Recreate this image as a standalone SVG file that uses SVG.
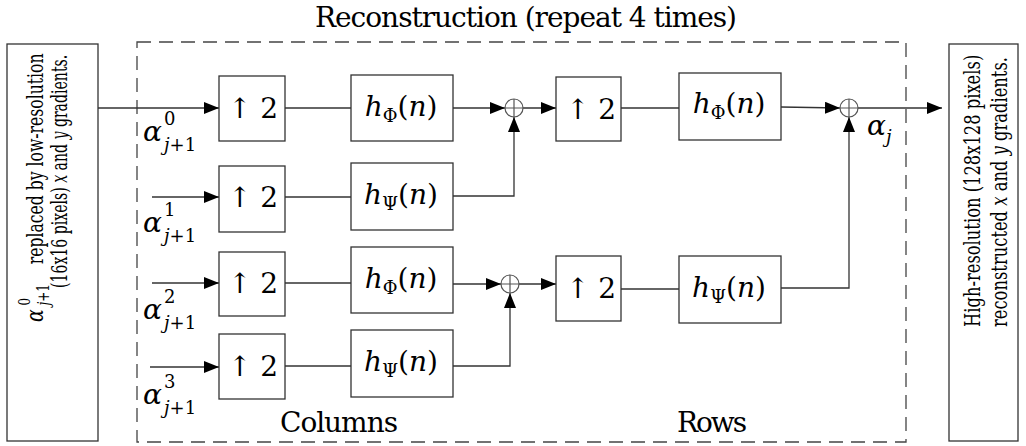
<svg xmlns="http://www.w3.org/2000/svg" width="1026" height="446" viewBox="0 0 1026 446">
<style>
.bx{fill:#fff;stroke:#333;stroke-width:1.3}
.ln{fill:none;stroke:#333;stroke-width:1.3}
.ar{fill:none;stroke:#333;stroke-width:1.3;marker-end:url(#ah)}
.dash{fill:none;stroke:#444;stroke-width:1.3;stroke-dasharray:14 8}
.sum{fill:#fff;stroke:#555;stroke-width:1.2}
text{font-family:'DejaVu Serif','Liberation Serif',serif;fill:#000}
.m{font-size:28px}
.ms{font-size:18px}
.lb{font-size:28px}
.bt{font-size:22px}
.bs{font-size:16px}
.i{font-style:italic}
</style>
<defs>
<marker id="ah" viewBox="0 0 15 12" refX="15" refY="6" markerWidth="15" markerHeight="12" orient="auto" markerUnits="userSpaceOnUse">
<path d="M0,0 L15,6 L0,12 z" fill="#000"/>
</marker>
</defs>

<text id="title" class="lb" x="315" y="27" textLength="422">Reconstruction (repeat 4 times)</text>

<rect id="frame" class="dash" x="137" y="42" width="769" height="400"/>

<g id="input">
<rect class="bx" x="7" y="44" width="91" height="397"/>
<g transform="translate(43,322) rotate(-90) scale(0.75,1)">
<text class="bt i" x="0" y="0" style="font-size:25px">α</text>
<text class="bs" x="22" y="-13">0</text>
<text class="bs" x="22" y="6"><tspan class="i">j</tspan>+1</text>
<text class="bt" x="77" y="0" textLength="281" lengthAdjust="spacingAndGlyphs">replaced by low-resolution</text>
</g>
<g transform="translate(67,288) rotate(-90) scale(0.75,1)">
<text class="bt" x="0" y="0" textLength="311" lengthAdjust="spacingAndGlyphs">(16x16 pixels) <tspan class="i">x</tspan> and <tspan class="i">y</tspan> gradients.</text>
</g>
</g>

<g id="output">
<rect class="bx" x="949" y="44" width="69" height="397"/>
<g transform="translate(980,327) rotate(-90) scale(0.75,1)">
<text class="bt" x="0" y="0" textLength="363" lengthAdjust="spacingAndGlyphs">High-resolution  (128x128  pixels)</text>
</g>
<g transform="translate(1007,327) rotate(-90) scale(0.75,1)">
<text class="bt" x="0" y="0" textLength="360" lengthAdjust="spacingAndGlyphs">reconstructed <tspan class="i">x</tspan> and <tspan class="i">y</tspan> gradients.</text>
</g>
</g>

<g id="connectors">
<line class="ar" x1="98" y1="108" x2="219" y2="108"/>
<line class="ar" x1="152" y1="197" x2="219" y2="197"/>
<line class="ar" x1="152" y1="283" x2="219" y2="283"/>
<line class="ar" x1="150" y1="367" x2="219" y2="367"/>
<line class="ln" x1="285" y1="108" x2="351" y2="108"/>
<line class="ln" x1="285" y1="197" x2="351" y2="197"/>
<line class="ln" x1="285" y1="283" x2="351" y2="283"/>
<line class="ln" x1="285" y1="366" x2="351" y2="366"/>
<line class="ar" x1="453" y1="108" x2="505" y2="108"/>
<polyline class="ar" points="453,196 514,196 514,117"/>
<line class="ar" x1="453" y1="284" x2="501" y2="284"/>
<polyline class="ar" points="453,366 510,366 510,293"/>
<line class="ar" x1="523" y1="108" x2="556" y2="108"/>
<line class="ar" x1="519" y1="284" x2="556" y2="284"/>
<line class="ln" x1="621" y1="108" x2="679" y2="108"/>
<line class="ln" x1="621" y1="289" x2="679" y2="289"/>
<line class="ar" x1="781" y1="107" x2="840" y2="108"/>
<polyline class="ar" points="781,288 849,288 849,117"/>
<line class="ar" x1="858" y1="108" x2="942" y2="108"/>
</g>

<g id="up1">
<rect class="bx" x="219" y="76" width="66" height="65"/>
<text class="m" x="253" y="118" text-anchor="middle">↑ 2</text>
</g>
<g id="up2">
<rect class="bx" x="219" y="166" width="66" height="66"/>
<text class="m" x="253" y="207" text-anchor="middle">↑ 2</text>
</g>
<g id="up3">
<rect class="bx" x="219" y="252" width="66" height="64"/>
<text class="m" x="253" y="293" text-anchor="middle">↑ 2</text>
</g>
<g id="up4">
<rect class="bx" x="219" y="334" width="66" height="65"/>
<text class="m" x="253" y="376" text-anchor="middle">↑ 2</text>
</g>

<g id="hphi1">
<rect class="bx" x="351" y="75" width="102" height="66"/>
<text class="m" x="401" y="116" text-anchor="middle"><tspan class="i">h</tspan><tspan class="ms" dy="6">Φ</tspan><tspan dy="-6">(</tspan><tspan class="i">n</tspan>)</text>
</g>
<g id="hpsi1">
<rect class="bx" x="351" y="163" width="102" height="67"/>
<text class="m" x="401" y="204" text-anchor="middle"><tspan class="i">h</tspan><tspan class="ms" dy="6">Ψ</tspan><tspan dy="-6">(</tspan><tspan class="i">n</tspan>)</text>
</g>
<g id="hphi2">
<rect class="bx" x="351" y="247" width="102" height="66"/>
<text class="m" x="401" y="288" text-anchor="middle"><tspan class="i">h</tspan><tspan class="ms" dy="6">Φ</tspan><tspan dy="-6">(</tspan><tspan class="i">n</tspan>)</text>
</g>
<g id="hpsi2">
<rect class="bx" x="351" y="330" width="102" height="67"/>
<text class="m" x="401" y="371" text-anchor="middle"><tspan class="i">h</tspan><tspan class="ms" dy="6">Ψ</tspan><tspan dy="-6">(</tspan><tspan class="i">n</tspan>)</text>
</g>

<g id="sum1">
<circle class="sum" cx="514" cy="108" r="9"/>
<path class="sum" d="M505,108 H523 M514,99 V117"/>
</g>
<g id="sum2">
<circle class="sum" cx="510" cy="284" r="9"/>
<path class="sum" d="M501,284 H519 M510,275 V293"/>
</g>
<g id="sum3">
<circle class="sum" cx="849" cy="108" r="9"/>
<path class="sum" d="M840,108 H858 M849,99 V117"/>
</g>

<g id="up5">
<rect class="bx" x="556" y="77" width="65" height="64"/>
<text class="m" x="591" y="119" text-anchor="middle">↑ 2</text>
</g>
<g id="up6">
<rect class="bx" x="556" y="256" width="65" height="65"/>
<text class="m" x="591" y="298" text-anchor="middle">↑ 2</text>
</g>
<g id="hphi3">
<rect class="bx" x="679" y="73" width="102" height="67"/>
<text class="m" x="729" y="113" text-anchor="middle"><tspan class="i">h</tspan><tspan class="ms" dy="6">Φ</tspan><tspan dy="-6">(</tspan><tspan class="i">n</tspan>)</text>
</g>
<g id="hpsi3">
<rect class="bx" x="679" y="256" width="102" height="67"/>
<text class="m" x="729" y="297" text-anchor="middle"><tspan class="i">h</tspan><tspan class="ms" dy="6">Ψ</tspan><tspan dy="-6">(</tspan><tspan class="i">n</tspan>)</text>
</g>

<g id="labels">
<text class="m i" x="143" y="141">α</text><text class="ms" x="164" y="125">0</text><text class="ms" x="164" y="151"><tspan class="i">j</tspan>+1</text>
<text class="m i" x="143" y="232">α</text><text class="ms" x="164" y="216">1</text><text class="ms" x="164" y="242"><tspan class="i">j</tspan>+1</text>
<text class="m i" x="143" y="319">α</text><text class="ms" x="164" y="303">2</text><text class="ms" x="164" y="329"><tspan class="i">j</tspan>+1</text>
<text class="m i" x="143" y="404">α</text><text class="ms" x="164" y="388">3</text><text class="ms" x="164" y="414"><tspan class="i">j</tspan>+1</text>
<text class="m i" x="867" y="135">α</text><text class="ms i" x="886" y="143">j</text>
<text class="lb" x="280" y="432" textLength="118">Columns</text>
<text class="lb" x="677" y="432" textLength="70">Rows</text>
</g>
</svg>
